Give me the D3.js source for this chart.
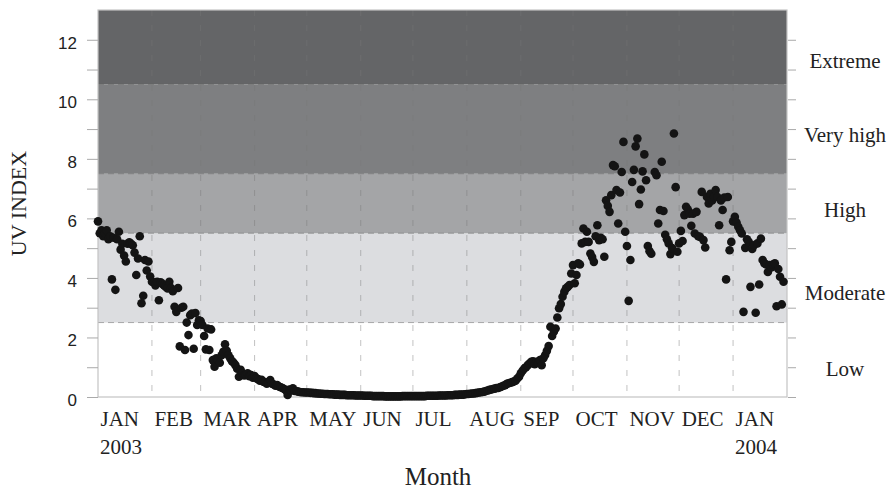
<!DOCTYPE html>
<html>
<head>
<meta charset="utf-8">
<script src="https://cdn.jsdelivr.net/npm/d3@7"></script>
<style>
  html, body { margin: 0; padding: 0; background: #fff; }
  svg { display: block; }
</style>
</head>
<body>
<svg id="chart" width="890" height="489"></svg>
<script>
// daily UV index, one array per month (index = day of month - 1, null = no reading)
var jan03 = [5.9, 5.5, 5.6, 5.4, 5.5, 5.6, 5.3, 5.4, 3.95, 5.35, 3.6, 5.3, 5.55, 4.95, 5.15, 4.75, 4.55, 5.15, 5.2, 5.15, 5.1, 4.85, 4.1, 4.65, 5.4, 3.15, 3.4, 4.6, 4.25, 4.55, 4.05];
var feb03 = [3.87, 3.85, 3.75, 3.87, 3.25, 3.85, 3.8, 3.75, 3.7, 3.65, 3.87, 3.66, 3.55, 3.03, 2.86, 3.66, 1.7, 3.0, 3.03, 1.58, 2.5, 2.08, 2.75, 2.8, 1.62, 2.82, 2.42, 2.58];
var mar03 = [2.55, 2.42, 2.05, 1.6, 2.3, 1.58, 2.27, 1.24, 1.02, 1.3, 1.24, 1.15, 1.4, 1.52, 1.77, 1.55, 1.4, 1.3, 1.2, 1.15, 1.07, 0.95, 0.68, 0.91, 0.8, 0.72, 0.74, 0.8, 0.7, 0.74, 0.65];
var apr03 = [0.7, 0.63, 0.6, 0.55, 0.58, 0.51, 0.5, 0.45, 0.48, 0.57, 0.45, 0.42, 0.38, 0.4, 0.35, 0.33, 0.3, 0.27, 0.23, 0.07, 0.25, 0.22, 0.29, 0.2, 0.2, 0.18, 0.17, 0.16, 0.16, 0.15];
var may03 = [0.15, 0.15, 0.14, 0.14, 0.13, 0.13, 0.12, 0.12, 0.11, 0.11, 0.1, 0.1, 0.1, 0.09, 0.09, 0.09, 0.08, 0.08, 0.08, 0.07, 0.07, 0.07, 0.07, 0.06, 0.06, 0.06, 0.06, 0.06, 0.05, 0.05, 0.05];
var jun03 = [0.05, 0.05, 0.04, 0.04, 0.04, 0.04, 0.04, 0.03, 0.03, 0.03, 0.03, 0.03, 0.03, 0.03, 0.02, 0.02, 0.02, 0.02, 0.02, 0.02, 0.02, 0.02, 0.02, 0.02, 0.03, 0.03, 0.03, 0.03, 0.03, 0.03];
var jul03 = [0.03, 0.03, 0.03, 0.03, 0.03, 0.03, 0.03, 0.03, 0.04, 0.04, 0.04, 0.04, 0.04, 0.04, 0.04, 0.05, 0.05, 0.05, 0.05, 0.05, 0.06, 0.06, 0.06, 0.06, 0.07, 0.07, 0.07, 0.08, 0.08, 0.08, 0.09];
var aug03 = [0.1, 0.1, 0.11, 0.12, 0.12, 0.13, 0.14, 0.15, 0.16, 0.17, 0.18, 0.2, 0.22, 0.24, 0.25, 0.27, 0.28, 0.3, 0.3, 0.33, 0.35, 0.38, 0.4, 0.44, 0.46, 0.48, 0.5, 0.52, 0.55, 0.62, 0.68];
var sep03 = [0.8, 0.88, 0.96, 1.0, 1.07, 1.12, 1.18, 1.2, 1.1, 1.18, 1.15, 1.24, 1.07, 1.3, 1.41, 1.55, 1.71, 2.36, 2.05, 2.19, 2.3, 2.67, 2.98, 3.12, 3.37, 3.53, 3.65, 3.7, 3.76, 4.15];
var oct03 = [4.43, 3.82, 4.1, 4.49, 4.45, 5.16, 5.66, 5.21, 5.55, 5.21, 4.82, 4.7, 4.54, 5.4, 5.77, 5.27, 5.35, 5.3, 4.71, 6.61, 6.42, 6.22, 6.78, 7.79, 7.75, 6.95, 5.83, 6.87, 7.56, 8.57, 5.55];
var nov03 = [5.07, 3.23, 4.6, 7.22, 7.63, 8.42, 8.68, 6.48, 6.97, 7.58, 8.15, 7.28, 5.07, 4.9, 4.81, null, 7.56, 7.45, 5.83, 6.28, 7.9, 6.25, 5.45, 5.3, 5.16, 4.8, 5.0, 8.85, 7.05, 4.88];
var dec03 = [5.16, 5.58, 5.24, 6.11, 6.39, 6.3, 6.16, 5.75, 6.16, 5.49, 6.22, 5.4, 5.38, 6.89, 5.27, 5.02, 6.72, 6.5, 6.83, 6.6, 6.72, 6.95, 6.72, 5.77, 6.6, 6.28, 6.7, 3.95, 6.72, 4.93, 5.21];
var jan04 = [5.9, 6.05, 5.86, 5.72, 5.6, 5.49, 2.86, 5.01, 5.3, 5.21, 3.7, 4.97, 5.1, 2.83, 5.16, 3.78, 5.32, 4.6, 4.49, 4.45, 4.2, 4.43, 4.35, 4.45, 4.49, 3.05, 4.3, 4.04, 3.11, 3.87, null];

var monthly = [jan03, feb03, mar03, apr03, may03, jun03, jul03, aug03, sep03, oct03, nov03, dec03, jan04];

// exposure categories
var bandNames = ["Low", "Moderate", "High", "Very high", "Extreme"];
var bandEdges = [0, 2.5, 5.5, 7.5, 10.5, 13];
var bandLabelAt = [0.95, 3.5, 6.3, 8.8, 11.3];
var yLabels = [0, 2, 4, 6, 8, 10, 12];

var data = [];
monthly.forEach(function (m, mi) {
  m.forEach(function (v, di) {
    if (v != null) data.push({ date: new Date(2003, mi, di + 1), uv: v });
  });
});

var svg = d3.select("#chart"),
    MARGINS = { top: 10, right: 103, bottom: 92, left: 98 },
    WIDTH = 890,
    HEIGHT = 489;

var serif = '"Liberation Serif", "Times New Roman", serif',
    sans = '"Liberation Sans", Arial, sans-serif';

var xScale = d3.scaleTime()
    .domain([new Date(2003, 0, 1), new Date(2004, 1, 1)])
    .range([MARGINS.left, WIDTH - MARGINS.right]);

var yScale = d3.scaleLinear()
    .domain([0, 13])
    .range([HEIGHT - MARGINS.bottom, MARGINS.top]);

var bandFill = ["#ffffff", "#dcdde0", "#a4a5a7", "#7e7f81", "#646567"];

// background bands
svg.append("g").selectAll("rect")
    .data(bandNames)
    .enter().append("rect")
    .attr("x", xScale.range()[0])
    .attr("width", xScale.range()[1] - xScale.range()[0])
    .attr("y", function (d, i) { return yScale(bandEdges[i + 1]); })
    .attr("height", function (d, i) { return yScale(bandEdges[i]) - yScale(bandEdges[i + 1]); })
    .attr("fill", function (d, i) { return bandFill[i]; });

// dashed month gridlines
var monthStarts = d3.timeMonth.range(new Date(2003, 1, 1), new Date(2004, 1, 1));
svg.append("g").selectAll("line")
    .data(monthStarts)
    .enter().append("line")
    .attr("x1", function (d) { return xScale(d); })
    .attr("x2", function (d) { return xScale(d); })
    .attr("y1", yScale.range()[1])
    .attr("y2", yScale.range()[0])
    .attr("stroke", "#777")
    .attr("stroke-opacity", 0.45)
    .attr("stroke-dasharray", "6,9");

// dashed band boundaries
svg.append("g").selectAll("line")
    .data(bandEdges.slice(1, 5))
    .enter().append("line")
    .attr("x1", xScale.range()[0])
    .attr("x2", xScale.range()[1])
    .attr("y1", function (d) { return yScale(d); })
    .attr("y2", function (d) { return yScale(d); })
    .attr("stroke", "#666")
    .attr("stroke-opacity", 0.5)
    .attr("stroke-dasharray", "6,4");

// frame
svg.append("rect")
    .attr("x", xScale.range()[0])
    .attr("y", yScale.range()[1])
    .attr("width", xScale.range()[1] - xScale.range()[0])
    .attr("height", yScale.range()[0] - yScale.range()[1])
    .attr("fill", "none")
    .attr("stroke", "#c4c4c4")
    .attr("stroke-width", 1.2);

// left axis
var yAxis = d3.axisLeft(yScale)
    .tickValues(d3.range(0, 13))
    .tickSize(11)
    .tickPadding(10)
    .tickFormat(function (d) { return yLabels.indexOf(d) >= 0 ? d : ""; });

var gy = svg.append("g")
    .attr("transform", "translate(" + MARGINS.left + ",0)")
    .call(yAxis);
gy.select(".domain").remove();
gy.selectAll("line").attr("stroke", "#aaa");
gy.selectAll("text")
    .attr("font-family", sans)
    .attr("font-size", 17)
    .attr("fill", "#222")
    .attr("dy", "0.5em");

// right axis (minor ticks only)
var gr = svg.append("g")
    .attr("transform", "translate(" + (xScale.range()[1] + 1) + ",0)")
    .call(d3.axisRight(yScale).tickValues(d3.range(0, 13)).tickSize(8).tickFormat(""));
gr.select(".domain").remove();
gr.selectAll("line").attr("stroke", "#aaa");

// bottom axis: month names
var gx = svg.append("g")
    .attr("transform", "translate(0," + yScale.range()[0] + ")")
    .call(d3.axisBottom(xScale)
        .tickValues(d3.timeMonth.range(new Date(2003, 0, 1), new Date(2004, 1, 1)))
        .tickSize(0)
        .tickFormat(function (d) { return d3.timeFormat("%b")(d).toUpperCase(); }));
gx.select(".domain").remove();
gx.selectAll("text")
    .attr("font-family", serif)
    .attr("font-size", 21)
    .attr("fill", "#222")
    .attr("text-anchor", "start")
    .attr("x", 2)
    .attr("y", 29)
    .attr("dy", 0);

// years under the January labels
svg.append("g").selectAll("text")
    .data([new Date(2003, 0, 1), new Date(2004, 0, 1)])
    .enter().append("text")
    .attr("x", function (d) { return xScale(d) + 2; })
    .attr("y", yScale.range()[0] + 57)
    .attr("font-family", serif)
    .attr("font-size", 21)
    .attr("fill", "#222")
    .text(function (d) { return d.getFullYear(); });

// category labels on the right
svg.append("g").selectAll("text")
    .data(bandNames)
    .enter().append("text")
    .attr("x", 845)
    .attr("y", function (d, i) { return yScale(bandLabelAt[i]); })
    .attr("dy", "0.35em")
    .attr("text-anchor", "middle")
    .attr("font-family", serif)
    .attr("font-size", 21)
    .attr("fill", "#222")
    .text(function (d) { return d; });

// axis titles
svg.append("text")
    .attr("transform", "translate(26," + ((yScale.range()[0] + yScale.range()[1]) / 2) + ") rotate(-90)")
    .attr("text-anchor", "middle")
    .attr("font-family", serif)
    .attr("font-size", 22)
    .attr("fill", "#222")
    .text("UV INDEX");

svg.append("text")
    .attr("x", 438)
    .attr("y", 485)
    .attr("text-anchor", "middle")
    .attr("font-family", serif)
    .attr("font-size", 25)
    .attr("fill", "#222")
    .text("Month");

// daily readings
svg.append("g").selectAll("circle")
    .data(data)
    .enter().append("circle")
    .attr("cx", function (d) { return xScale(d.date); })
    .attr("cy", function (d) { return yScale(d.uv); })
    .attr("r", 4.3)
    .attr("fill", "#141414");
</script>
</body>
</html>
